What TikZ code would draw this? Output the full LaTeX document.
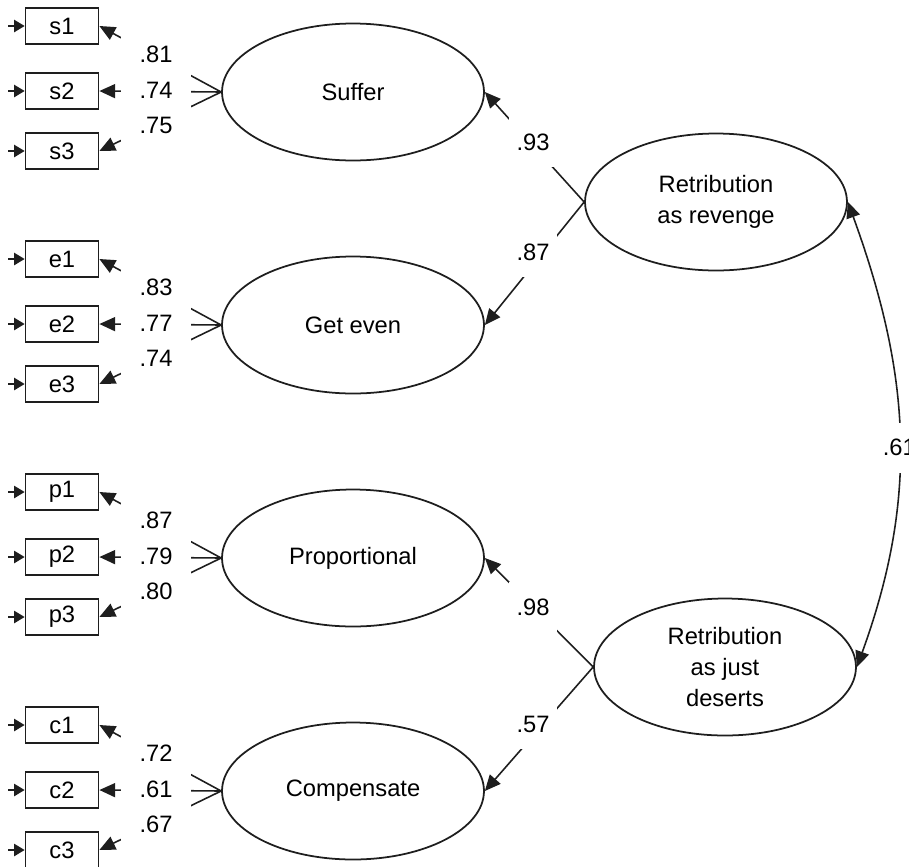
\documentclass[tikz,border=0pt]{standalone}
\usepackage{fontspec}
\setmainfont{Liberation Sans}
\usepackage{tikz}
\usetikzlibrary{arrows.meta,shapes.geometric}
\definecolor{ink}{HTML}{1E1E1E}
\tikzset{
  >={Triangle[length=9pt,width=8pt]},
  latent/.style={ellipse,draw=ink,line width=1pt,minimum width=5.24cm,minimum height=2.74cm,inner sep=0pt,align=center,font=\fontsize{13.5}{17.6}\selectfont},
  item/.style={draw=ink,line width=1pt,minimum width=1.46cm,minimum height=.72cm,inner sep=0pt,font=\fontsize{13.5}{16}\selectfont},
  load/.style={->,line width=.9pt,color=ink},
  stub/.style={-{Triangle[length=6pt,width=7pt]},line width=.9pt,color=ink},
  cov/.style={<->,line width=.9pt,color=ink},
  coef/.style={fill=white,inner sep=0pt,minimum width=1.42cm,minimum height=.72cm,font=\fontsize{13.5}{16}\selectfont},
  weight/.style={coef,minimum width=.96cm,minimum height=1cm},
}

\begin{document}
\begin{tikzpicture}[x=.02cm,y=-.02cm]
  \useasboundingbox (0,0) rectangle (909,866);

  \node[latent] (suffer) at (353,92) {Suffer};
  \node[latent] (geteven) at (353,325) {Get even};
  \node[latent] (prop) at (353,558) {Proportional};
  \node[latent] (comp) at (353,791) {Compensate};
  \node[latent] (revenge) at (716,202) {Retribution\\as revenge};
  \node[latent] (deserts) at (725,667) {Retribution\\as just\\deserts};

  \node[item] (s1) at (62,26) {s1};
  \node[item] (s2) at (62,91) {s2};
  \node[item] (s3) at (62,151) {s3};
  \node[item] (e1) at (62,259) {e1};
  \node[item] (e2) at (62,324) {e2};
  \node[item] (e3) at (62,384) {e3};
  \node[item] (p1) at (62,492) {p1};
  \node[item] (p2) at (62,557) {p2};
  \node[item] (p3) at (62,617) {p3};
  \node[item] (c1) at (62,725) {c1};
  \node[item] (c2) at (62,790) {c2};
  \node[item] (c3) at (62,850) {c3};

  \coordinate (s1err) at (8,26);
  \coordinate (s2err) at (8,91);
  \coordinate (s3err) at (8,151);
  \coordinate (e1err) at (8,259);
  \coordinate (e2err) at (8,324);
  \coordinate (e3err) at (8,384);
  \coordinate (p1err) at (8,492);
  \coordinate (p2err) at (8,557);
  \coordinate (p3err) at (8,617);
  \coordinate (c1err) at (8,725);
  \coordinate (c2err) at (8,790);
  \coordinate (c3err) at (8,850);
  \draw[stub] (s1err) -- (s1.west);
  \draw[stub] (s2err) -- (s2.west);
  \draw[stub] (s3err) -- (s3.west);
  \draw[stub] (e1err) -- (e1.west);
  \draw[stub] (e2err) -- (e2.west);
  \draw[stub] (e3err) -- (e3.west);
  \draw[stub] (p1err) -- (p1.west);
  \draw[stub] (p2err) -- (p2.west);
  \draw[stub] (p3err) -- (p3.west);
  \draw[stub] (c1err) -- (c1.west);
  \draw[stub] (c2err) -- (c2.west);
  \draw[stub] (c3err) -- (c3.west);

  \draw[load] (suffer.west) -- (s1.east);
  \draw[load] (suffer.west) -- (s2.east);
  \draw[load] (suffer.west) -- (s3.east);
  \draw[load] (geteven.west) -- (e1.east);
  \draw[load] (geteven.west) -- (e2.east);
  \draw[load] (geteven.west) -- (e3.east);
  \draw[load] (prop.west) -- (p1.east);
  \draw[load] (prop.west) -- (p2.east);
  \draw[load] (prop.west) -- (p3.east);
  \draw[load] (comp.west) -- (c1.east);
  \draw[load] (comp.west) -- (c2.east);
  \draw[load] (comp.west) -- (c3.east);
  \draw[load] (revenge.west) -- (suffer.east);
  \draw[load] (revenge.west) -- (geteven.east);
  \draw[load] (deserts.west) -- (prop.east);
  \draw[load] (deserts.west) -- (comp.east);
  \draw[cov] (revenge.east) to[out=-70,in=70] coordinate[pos=.53] (covmid) (deserts.east);

  \node[coef] (ls1) at (156,54) {.81};
  \node[coef] (ls2) at (156,90) {.74};
  \node[coef] (ls3) at (156,125) {.75};
  \node[coef] (le1) at (156,287) {.83};
  \node[coef] (le2) at (156,323) {.77};
  \node[coef] (le3) at (156,358) {.74};
  \node[coef] (lp1) at (156,520) {.87};
  \node[coef] (lp2) at (156,556) {.79};
  \node[coef] (lp3) at (156,591) {.80};
  \node[coef] (lc1) at (156,753) {.72};
  \node[coef] (lc2) at (156,789) {.61};
  \node[coef] (lc3) at (156,824) {.67};
  \node[weight] (lsuffer) at (533,142) {.93};
  \node[weight] (lgeteven) at (533,252) {.87};
  \node[weight] (lprop) at (533,607) {.98};
  \node[weight] (lcomp) at (533,724) {.57};
  \node[weight,minimum width=.7cm] (lcov) at (covmid) {.61};
\end{tikzpicture}
\end{document}
